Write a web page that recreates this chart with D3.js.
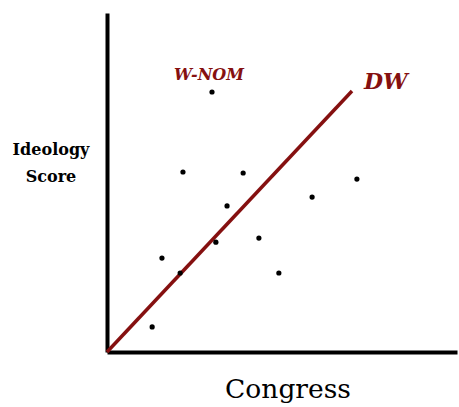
<!doctype html>
<meta charset='utf-8' />
<script src='https://cdn.jsdelivr.net/npm/d3@7'></script>
<style>
    body { margin: 0; background: #fff; }
    text { font-family: 'DejaVu Serif', serif; }
</style>
<svg></svg>
<script>
    var width = 459,
        height = 407

    // congress (x) and ideology score (y) of the W-NOM points
    var congress = [30, 21.7, 38.9, 71.4, 58.6, 34.3, 31.1, 43.4, 15.7, 20.9, 49.1, 12.9]
    var wnom = [76.7, 53.1, 52.8, 51.0, 45.7, 43.1, 32.4, 33.6, 27.7, 23.3, 23.3, 7.4]

    // DW trend line
    var dwCongress = [0, 70]
    var dwScore = [0, 77]

    var svg = d3.select('svg')
        .attr('width', width)
        .attr('height', height)

    var x = d3.scaleLinear().domain([0, 100]).range([107, 457])
    var y = d3.scaleLinear().domain([0, 100]).range([352, 13])

    var red = '#851010'

    svg.append('g')
        .attr('transform', 'translate(0,' + y(0) + ')')
        .call(d3.axisBottom(x).ticks(0).tickSizeOuter(0))
        .select('.domain')
        .attr('stroke', '#000')
        .attr('stroke-width', 4)

    svg.append('g')
        .attr('transform', 'translate(' + x(0) + ',0)')
        .call(d3.axisLeft(y).ticks(0).tickSizeOuter(0))
        .select('.domain')
        .attr('stroke', '#000')
        .attr('stroke-width', 4)

    var line = d3.line()
        .x(d => x(d[0]))
        .y(d => y(d[1]))

    svg.append('path')
        .datum(d3.zip(dwCongress, dwScore))
        .attr('d', line)
        .attr('fill', 'none')
        .attr('stroke', red)
        .attr('stroke-width', 3.5)

    svg.selectAll('circle')
        .data(d3.zip(congress, wnom))
        .enter()
        .append('circle')
        .attr('cx', d => x(d[0]))
        .attr('cy', d => y(d[1]))
        .attr('r', 2.6)
        .attr('fill', '#000')

    svg.append('text')
        .attr('x', 209)
        .attr('y', 80)
        .attr('text-anchor', 'middle')
        .attr('font-weight', 'bold')
        .attr('font-style', 'italic')
        .attr('font-size', 16)
        .attr('fill', red)
        .text('W-NOM')

    svg.append('text')
        .attr('x', 364)
        .attr('y', 89)
        .attr('font-weight', 'bold')
        .attr('font-style', 'italic')
        .attr('font-size', 22)
        .attr('fill', red)
        .text('DW')

    var ylab = svg.append('text')
        .attr('text-anchor', 'middle')
        .attr('font-weight', 'bold')
        .attr('font-size', 16)
        .attr('fill', '#000')
    ylab.append('tspan').attr('x', 51).attr('y', 155).text('Ideology')
    ylab.append('tspan').attr('x', 51).attr('y', 182).text('Score')

    svg.append('text')
        .attr('x', 288)
        .attr('y', 398)
        .attr('text-anchor', 'middle')
        .attr('font-size', 26.5)
        .attr('fill', '#000')
        .text('Congress')
</script>
